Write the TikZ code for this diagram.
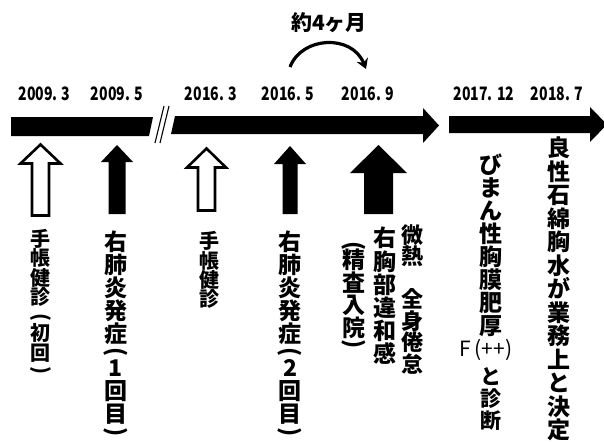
\documentclass[tikz,border=0pt]{standalone}
\usepackage{graphicx}
\usepackage{fontspec}
\newfontfamily\jp{Noto Sans CJK JP}
\newfontfamily\datef{Noto Sans CJK JP}[FakeStretch=0.76]
\usetikzlibrary{arrows.meta}
\newcommand\vpar[1]{\rotatebox[origin=c]{-90}{#1}}
\newcommand\UpArr[7]{%
  \draw[#1] (#2,#3) -- ++(#6/2,#4) -- ++(-#6/2+#7/2,0) -- ++(0,#5-#4) -- ++(-#7,0) -- ++(0,-#5+#4) -- ++(-#6/2+#7/2,0) -- cycle;}
\tikzset{
  bar/.style={fill=black, draw=none},
  hollowarr/.style={draw=black, line width=2.6pt, fill=white, line join=miter},
  fullarr/.style={fill=black, draw=none},
  datelbl/.style={inner sep=0pt, font=\datef\bfseries\fontsize{18.5}{19}\selectfont},
  vcol/.style={align=center, inner sep=0pt, anchor=north},
  breakline/.style={line width=1.1pt},
}
\begin{document}
\begin{tikzpicture}[x=1pt,y=-1pt]
\useasboundingbox (0,0) rectangle (604,441);
\clip (0,0) rectangle (604,441);
% timeline bars
\fill[bar] (11,117) -- (153,117) -- (149,136) -- (11,136) -- cycle;
\draw[breakline] (164,106) -- (155,143);
\draw[breakline] (169,106) -- (160,143);
\fill[bar] (175,116) -- (423,116) -- (423,108) -- (439,125.5) -- (423,143) -- (423,134) -- (171,134) -- cycle;
\fill[bar] (449,116) -- (590,116) -- (590,107) -- (607,124.5) -- (590,142) -- (590,133) -- (449,133) -- cycle;
% dates
\node[datelbl] (d1) at (44.5,94) {2009. 3};
\node[datelbl] (d2) at (117,94) {2009. 5};
\node[datelbl] (d3) at (211,94) {2016. 3};
\node[datelbl] (d4) at (288,94) {2016. 5};
\node[datelbl] (d5) at (368,94) {2016. 9};
\node[datelbl] (d6) at (484,94) {2017. 12};
\node[datelbl] (d7) at (557,94) {2018. 7};
% about 4 months
\node[inner sep=0pt, font=\jp\bfseries\fontsize{21}{22}\selectfont] (m4) at (329,23) {約4ヶ月};
\coordinate (cs) at (290,67);
\coordinate (ce) at (366,69);
\draw[line width=3.2pt, -{Stealth[length=10pt,width=12pt]}] (cs) .. controls (302,36) and (352,34) .. (ce);
% up arrows
\UpArr{hollowarr}{40.5}{144.5}{19}{71}{40}{17}
\UpArr{fullarr}{117}{145}{17}{69}{32}{17}
\UpArr{hollowarr}{206.5}{148.5}{19}{62}{39}{17}
\UpArr{fullarr}{290}{146}{18}{68}{32}{15}
\UpArr{fullarr}{378.5}{145}{28}{69}{57}{29}
% vertical texts
\node[vcol, font=\jp\bfseries\fontsize{20}{19.5}\selectfont] (ta) at (41,229)
  {手\\帳\\健\\診\\[-1pt]\vpar{(}\\[-2pt]初\\回\\[-3pt]\vpar{)}};
\node[vcol, font=\jp\bfseries\fontsize{23}{23}\selectfont] (tb) at (116,231)
  {右\\肺\\炎\\発\\症\\[-6pt]\vpar{(}\\[-6pt]1\\回\\目\\[-6pt]\vpar{)}};
\node[vcol, font=\jp\bfseries\fontsize{20}{19}\selectfont] (tc) at (209,231)
  {手\\帳\\健\\診};
\node[vcol, font=\jp\bfseries\fontsize{23}{23}\selectfont] (td) at (290,231)
  {右\\肺\\炎\\発\\症\\[-6pt]\vpar{(}\\[-6pt]2\\回\\目\\[-6pt]\vpar{)}};
\node[vcol, font=\jp\bfseries\fontsize{22}{21.5}\selectfont] (te1) at (412,224)
  {微\\熱\\\mbox{}\\全\\身\\倦\\怠};
\node[vcol, font=\jp\bfseries\fontsize{23}{23.2}\selectfont] (te2) at (385,227)
  {右\\胸\\部\\違\\和\\感};
\node[vcol, font=\jp\bfseries\fontsize{23}{22.5}\selectfont] (te3) at (354,241)
  {\vpar{(}\\[-7pt]精\\査\\入\\院\\[-7pt]\vpar{)}};
\node[vcol, font=\jp\bfseries\fontsize{23}{23}\selectfont] (tf1) at (491,154)
  {び\\ま\\ん\\性\\胸\\膜\\肥\\厚};
\node[inner sep=0pt, font=\jp\fontsize{21}{22}\selectfont] (tfx) at (486,350) {F\,(++)};
\node[vcol, font=\jp\bfseries\fontsize{21}{22}\selectfont] (tf2) at (491,367)
  {と\\診\\断};
\node[vcol, font=\jp\bfseries\fontsize{23}{23.5}\selectfont] (tg) at (559,137)
  {良\\性\\石\\綿\\胸\\水\\が\\業\\務\\上\\と\\決\\定};
\end{tikzpicture}
\end{document}
